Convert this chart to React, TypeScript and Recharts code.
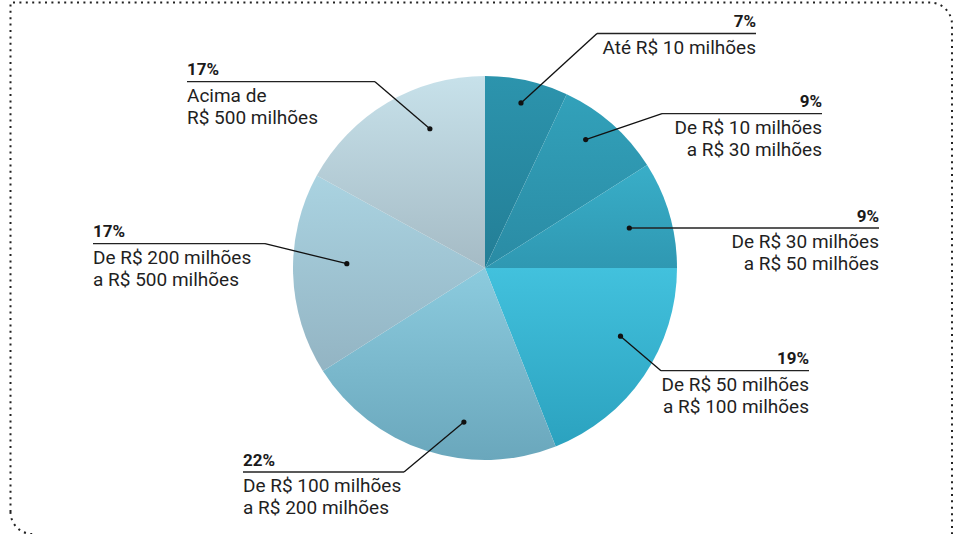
import { PieChart, Pie, Cell } from "recharts";

const ranges = [
  "Até R$ 10 milhões",
  "De R$ 10 milhões a R$ 30 milhões",
  "De R$ 30 milhões a R$ 50 milhões",
  "De R$ 50 milhões a R$ 100 milhões",
  "De R$ 100 milhões a R$ 200 milhões",
  "De R$ 200 milhões a R$ 500 milhões",
  "Acima de R$ 500 milhões",
];
const labelLines = [
  ["Até R$ 10 milhões"],
  ["De R$ 10 milhões", "a R$ 30 milhões"],
  ["De R$ 30 milhões", "a R$ 50 milhões"],
  ["De R$ 50 milhões", "a R$ 100 milhões"],
  ["De R$ 100 milhões", "a R$ 200 milhões"],
  ["De R$ 200 milhões", "a R$ 500 milhões"],
  ["Acima de", "R$ 500 milhões"],
];
const shares = [7, 9, 9, 19, 22, 17, 17];

// top / bottom shade of each slice
const topColors = ["#2c94ad", "#32a1ba", "#39aec8", "#42c1dd", "#8ccbde", "#aad3e1", "#c7e1ea"];
const bottomColors = ["#237e96", "#2a8ba4", "#2f98b2", "#2ba2bf", "#6aa7bc", "#93b4c3", "#a5bbc5"];

const data = ranges.map((name, i) => ({ name, value: shares[i] }));

// annotation placement: text edge, underline y, elbow x, dot radius fraction, angle nudge
const labelLayout = [
  { align: "end", textX: 756, ruleY: 33.5, elbowX: 597, dotR: 0.88, nudge: 0.3 },
  { align: "end", textX: 822, ruleY: 113.7, elbowX: 662, dotR: 0.85, nudge: 3.3 },
  { align: "end", textX: 879, ruleY: 228, elbowX: null, dotR: 0.78, nudge: -0.7 },
  { align: "end", textX: 809, ruleY: 370.7, elbowX: 661, dotR: 0.79, nudge: 7.5 },
  { align: "start", textX: 243, ruleY: 472, elbowX: 404, dotR: 0.81, nudge: 10.2 },
  { align: "start", textX: 93, ruleY: 243.7, elbowX: 265, dotR: 0.72, nudge: -3.6 },
  { align: "start", textX: 187, ruleY: 81.7, elbowX: 375, dotR: 0.78, nudge: -9 },
];

const RAD = Math.PI / 180;
const FONT = "Roboto, 'Noto Sans', sans-serif";

const renderLabel = (props: any) => {
  const { cx, cy, midAngle, outerRadius, index } = props;
  const lay = labelLayout[index];
  const ang = (midAngle + lay.nudge) * RAD;
  const r = outerRadius * lay.dotR;
  const dx = cx + r * Math.cos(-ang);
  const dy = cy + r * Math.sin(-ang);
  const elbowX = lay.elbowX ?? dx;
  const x1 = lay.align === "end" ? elbowX : lay.textX;
  const x2 = lay.align === "end" ? lay.textX : elbowX;
  return (
    <g key={`lbl-${index}`}>
      <line x1={dx} y1={dy} x2={elbowX} y2={lay.ruleY} stroke="#111" strokeWidth={1.3} />
      <line x1={x1} y1={lay.ruleY} x2={x2} y2={lay.ruleY} stroke="#222" strokeWidth={1.3} />
      <circle cx={dx} cy={dy} r={2.6} fill="#111" />
      <text
        x={lay.textX}
        y={lay.ruleY - 6.5}
        textAnchor={lay.align}
        fontFamily={FONT}
        fontWeight={700}
        fontSize={17}
        fill="#1a1a1a"
      >
        {shares[index]}%
      </text>
      {labelLines[index].map((ln, j) => (
        <text
          key={j}
          x={lay.textX}
          y={lay.ruleY + 20 + j * 22}
          textAnchor={lay.align}
          fontFamily={FONT}
          fontSize={19}
          fill="#1f1f1f"
        >
          {ln}
        </text>
      ))}
    </g>
  );
};

export default function App() {
  return (
    <div style={{ position: "fixed", left: 0, top: 0, width: 959, height: 534, background: "#fff" }}>
      <PieChart width={959} height={534} margin={{ top: 0, right: 0, bottom: 0, left: 0 }}>
        <defs>
          {topColors.map((c, i) => (
            <linearGradient key={i} id={`slice-${i}`} x1="0" y1="0" x2="0" y2="1">
              <stop offset="0%" stopColor={c} />
              <stop offset="100%" stopColor={bottomColors[i]} />
            </linearGradient>
          ))}
        </defs>
        <Pie
          data={data}
          dataKey="value"
          nameKey="name"
          cx={485}
          cy={268}
          outerRadius={192}
          startAngle={90}
          endAngle={-270}
          stroke="none"
          label={renderLabel}
          labelLine={false}
          isAnimationActive={false}
        >
          {data.map((d, i) => (
            <Cell key={d.name} fill={`url(#slice-${i})`} />
          ))}
        </Pie>
      </PieChart>
      <svg
        width={959}
        height={534}
        style={{ position: "absolute", left: 0, top: 0, pointerEvents: "none" }}
      >
        <path
          d="M 10.5 512 L 10.5 2.5 L 930 2.5 A 22 22 0 0 1 952 24.5 L 952 540"
          fill="none"
          stroke="#222"
          strokeWidth={2}
          strokeDasharray="2 4.4"
        />
        <path d="M 10.5 512 A 22 22 0 0 0 32.5 534" fill="none" stroke="#222" strokeWidth={2} strokeDasharray="2 4.4" />
      </svg>
    </div>
  );
}
